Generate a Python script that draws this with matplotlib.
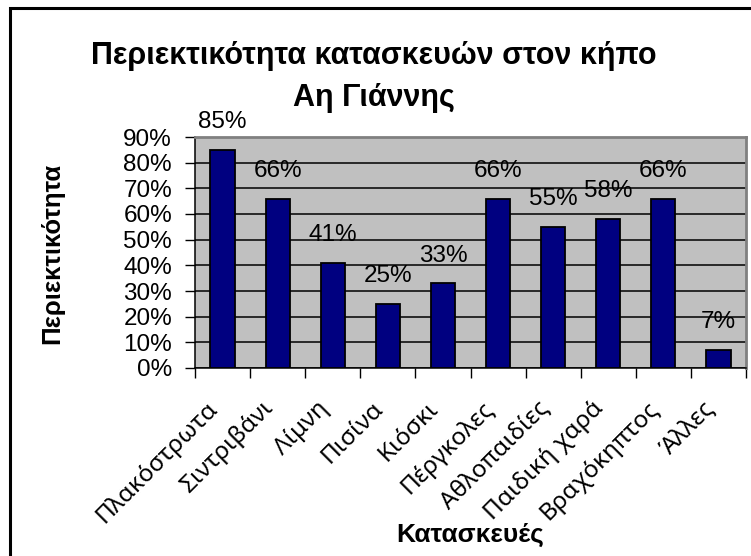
import numpy as np
import matplotlib
matplotlib.use("Agg")
import matplotlib.pyplot as plt
from matplotlib.patches import Rectangle
from matplotlib.ticker import FixedLocator, PercentFormatter, NullFormatter

# Δεδομένα
categories = ["Πλακόστρωτα", "Σιντριβάνι", "Λίμνη", "Πισίνα", "Κιόσκι",
              "Πέργκολες", "Αθλοπαιδίες", "Παιδική χαρά", "Βραχόκηπτος", "Άλλες"]
values = [85, 66, 41, 25, 33, 66, 55, 58, 66, 7]
y_ticks = [0, 10, 20, 30, 40, 50, 60, 70, 80, 90]

title = "Περιεκτικότητα κατασκευών στον κήπο\nΑη Γιάννης"
x_title = "Κατασκευές"
y_title = "Περιεκτικότητα"

plt.rcParams['font.family'] = ['Liberation Sans', 'DejaVu Sans']

fig = plt.figure(figsize=(7.51, 5.56), dpi=100)
fig.patch.set_facecolor('white')

# πλαίσιο του γραφήματος (κομμένο δεξιά και κάτω)
fig.patches.append(Rectangle((10 / 751, -0.05), 1.2, 1 - 8 / 556 + 0.05,
                             transform=fig.transFigure, fill=False,
                             edgecolor='black', linewidth=2.2, clip_on=False))

ax = fig.add_axes([195 / 751, 1 - 368 / 556, 551 / 751, 231 / 556])
ax.set_facecolor('#C0C0C0')

x = np.arange(len(categories))
ax.bar(x, values, width=0.44, color='#000080', edgecolor='black',
       linewidth=1.3, zorder=3)

for xi, v in zip(x, values):
    ax.annotate(f"{v}%", xy=(xi, v), xytext=(0, 20), textcoords='offset points',
                ha='center', va='center', fontsize=17.5, zorder=4)

ax.set_xlim(-0.5, len(categories) - 0.5)
ax.set_ylim(0, 90)
ax.set_yticks(y_ticks)
ax.yaxis.set_major_formatter(PercentFormatter(decimals=0))
ax.yaxis.grid(True, color='black', linewidth=1.1)
ax.set_axisbelow(True)

# ticks στα όρια των κατηγοριών
ax.xaxis.set_major_locator(FixedLocator(np.arange(-0.5, len(categories), 1.0)))
ax.xaxis.set_major_formatter(NullFormatter())
ax.tick_params(axis='x', which='major', length=7, width=1)
ax.tick_params(axis='y', length=7, width=1, labelsize=17.5, pad=9.5)

# ετικέτες κατηγοριών υπό γωνία 45°
for xi, name in zip(x, categories):
    ax.annotate(name, xy=(xi, 0), xycoords=('data', 'axes fraction'),
                xytext=(-5.8, -26.6), textcoords='offset points',
                rotation=45, rotation_mode='anchor', ha='right', va='center',
                fontsize=17.5, family=['Noto Sans', 'DejaVu Sans'],
                annotation_clip=False)

for s in ['left', 'bottom']:
    ax.spines[s].set_color('black')
    ax.spines[s].set_linewidth(1.1)
for s in ['top', 'right']:
    ax.spines[s].set_color('#808080')
    ax.spines[s].set_linewidth(2)

fig.text(52 / 751, 1 - 253 / 556, y_title, rotation=90, ha='center', va='center',
         fontsize=18.5, fontweight='bold')
fig.text(470 / 751, 1 - 535 / 556, x_title, ha='center', va='center',
         fontsize=19, fontweight='bold')

fig.text(374 / 751, 1 - 77 / 556, title, ha='center', va='center', fontsize=22,
         fontweight='bold', linespacing=1.53)

fig.savefig('out.png', dpi=100)
